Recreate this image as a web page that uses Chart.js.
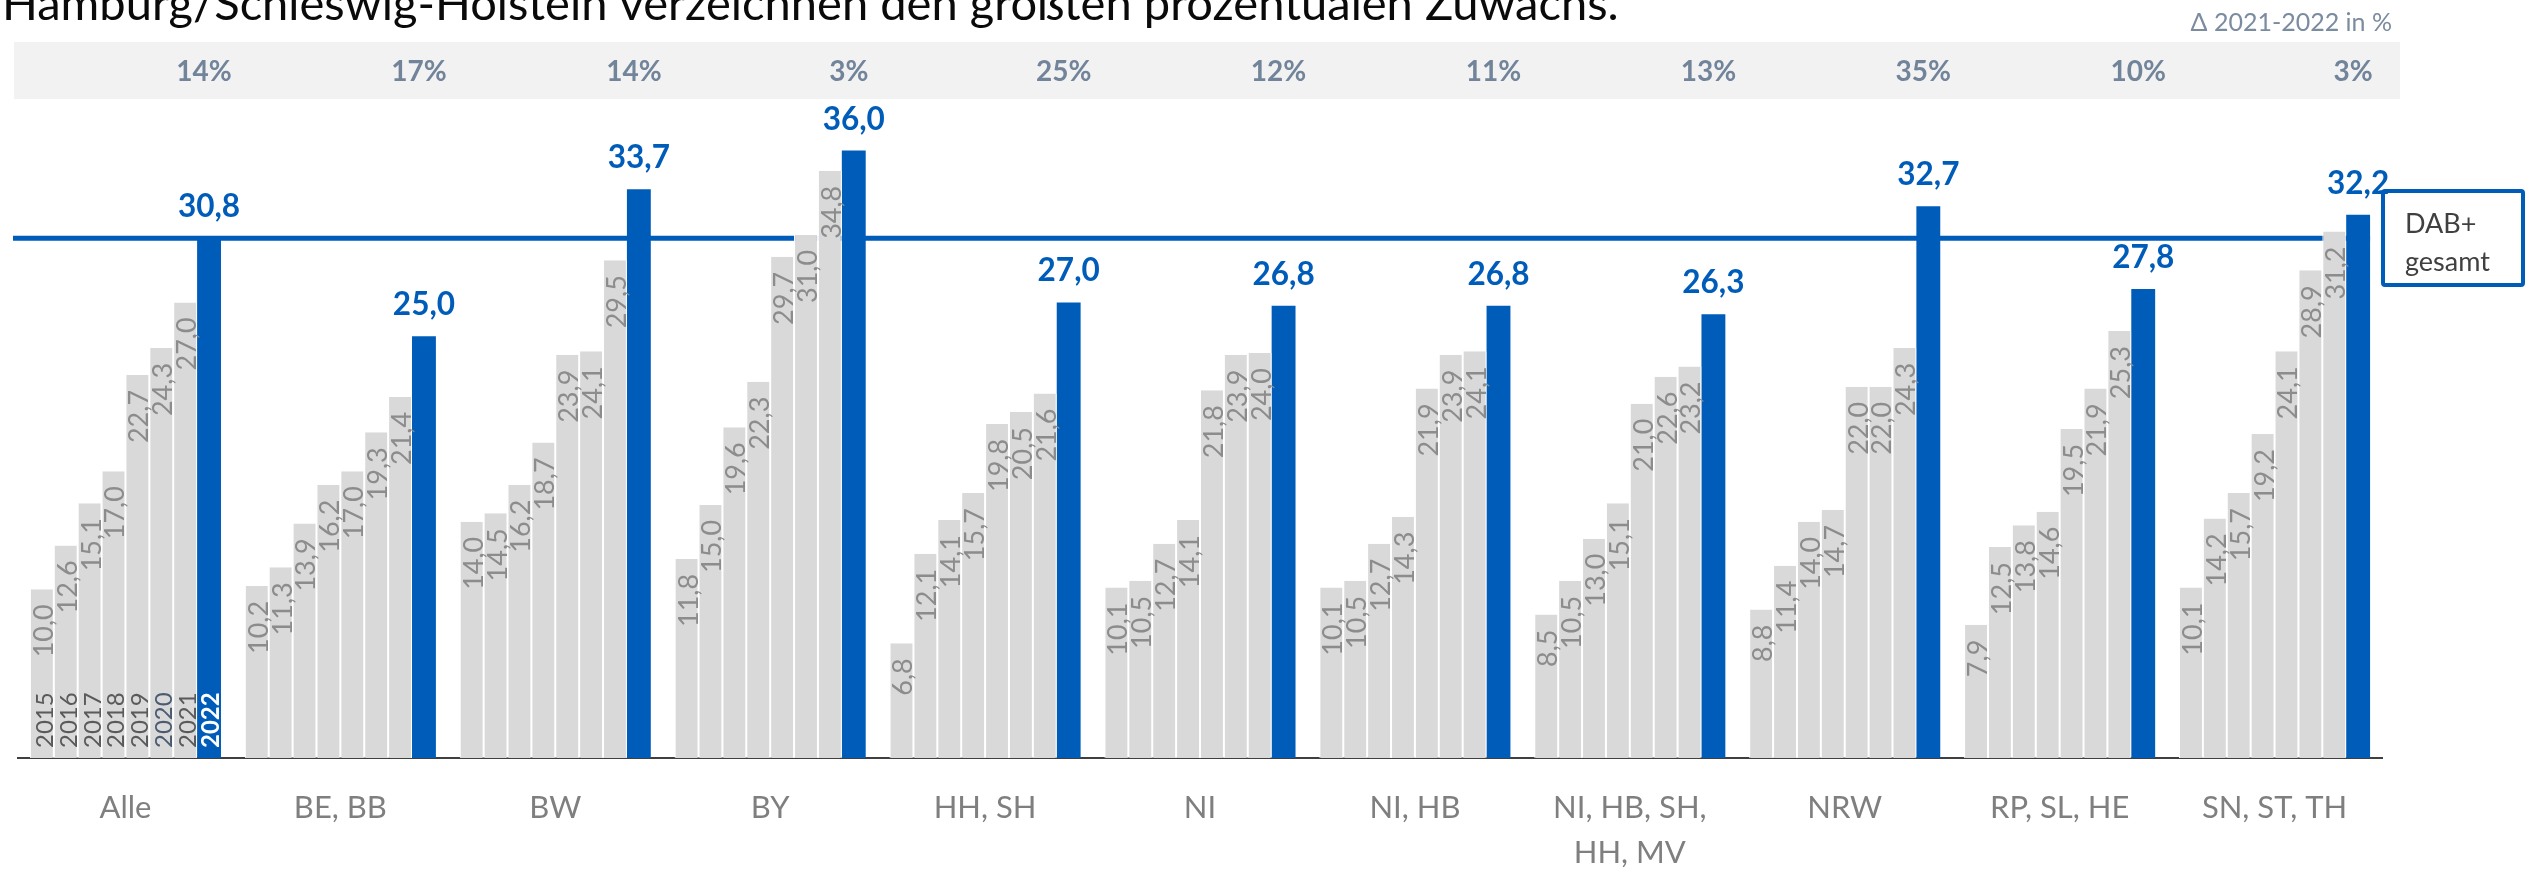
<!DOCTYPE html>
<html>
<head>
<meta charset="utf-8">
<script src="https://cdn.jsdelivr.net/npm/chart.js@4.4.1/dist/chart.umd.min.js"></script>
<style>
  html, body { margin: 0; padding: 0; background: #ffffff; overflow: hidden; }
  #wrap { width: 2538px; height: 873px; position: relative; }
</style>
</head>
<body>
<div id="wrap"><canvas id="c" width="2538" height="873"></canvas></div>
<script>
// Regions (x categories)
const regions = ['Alle', 'BE, BB', 'BW', 'BY', 'HH, SH', 'NI', 'NI, HB',
  ['NI, HB, SH,', 'HH, MV'], 'NRW', 'RP, SL, HE', 'SN, ST, TH'];

// Years, one bar series each
const years = ['2015', '2016', '2017', '2018', '2019', '2020', '2021', '2022'];

// DAB+ share per region and year (in %)
const share2015 = [10.0, 10.2, 14.0, 11.8,  6.8, 10.1, 10.1,  8.5,  8.8,  7.9, 10.1];
const share2016 = [12.6, 11.3, 14.5, 15.0, 12.1, 10.5, 10.5, 10.5, 11.4, 12.5, 14.2];
const share2017 = [15.1, 13.9, 16.2, 19.6, 14.1, 12.7, 12.7, 13.0, 14.0, 13.8, 15.7];
const share2018 = [17.0, 16.2, 18.7, 22.3, 15.7, 14.1, 14.3, 15.1, 14.7, 14.6, 19.2];
const share2019 = [22.7, 17.0, 23.9, 29.7, 19.8, 21.8, 21.9, 21.0, 22.0, 19.5, 24.1];
const share2020 = [24.3, 19.3, 24.1, 31.0, 20.5, 23.9, 23.9, 22.6, 22.0, 21.9, 28.9];
const share2021 = [27.0, 21.4, 29.5, 34.8, 21.6, 24.0, 24.1, 23.2, 24.3, 25.3, 31.2];
const share2022 = [30.8, 25.0, 33.7, 36.0, 27.0, 26.8, 26.8, 26.3, 32.7, 27.8, 32.2];

// Growth 2021 -> 2022 per region (in %)
const growthPct = [14, 17, 14, 3, 25, 12, 11, 13, 35, 10, 3];

// Overall DAB+ share 2022 (reference line)
const dabTotal = 30.8;

const titleText = 'Hamburg/Schleswig-Holstein verzeichnen den größten prozentualen Zuwachs.';
const deltaCaption = 'Δ 2021-2022 in %';
const totalCaption = ['DAB+', 'gesamt'];

const seriesByYear = [share2015, share2016, share2017, share2018,
  share2019, share2020, share2021, share2022];

const BLUE = '#005cb9';
const GREY_BAR = '#d9d9d9';
const FONT = 'Lato, "Open Sans", sans-serif';

const fmt = v => v.toFixed(1).replace('.', ',');

const decor = {
  id: 'decor',
  beforeDraw(chart) {
    const ctx = chart.ctx;
    ctx.save();
    // headline (partly above the top edge)
    let size = 46;
    ctx.font = `400 ${size}px ${FONT}`;
    size = size * 1617 / ctx.measureText(titleText).width;
    ctx.font = `400 ${size}px ${FONT}`;
    ctx.fillStyle = '#0a0a0a';
    ctx.textAlign = 'left';
    ctx.textBaseline = 'alphabetic';
    ctx.fillText(titleText, 2, 20);

    // grey band holding the growth figures
    ctx.fillStyle = '#f2f2f2';
    ctx.fillRect(14, 42, 2386, 57);

    // band caption
    ctx.fillStyle = '#7b8ba0';
    ctx.font = `400 25px ${FONT}`;
    ctx.textAlign = 'right';
    ctx.textBaseline = 'middle';
    ctx.fillText(deltaCaption, 2392, 23);
    ctx.restore();
  },
  beforeDatasetsDraw(chart) {
    // overall reference line, behind the bars
    const ctx = chart.ctx;
    const y = chart.scales.y.getPixelForValue(dabTotal);
    const last = chart.getDatasetMeta(years.length - 1).data;
    const right = last[last.length - 1].x + last[last.length - 1].width / 2;
    ctx.save();
    ctx.strokeStyle = BLUE;
    ctx.lineWidth = 5;
    ctx.beginPath();
    ctx.moveTo(13, y);
    ctx.lineTo(right, y);
    ctx.stroke();
    ctx.restore();
  },
  afterDatasetsDraw(chart) {
    const ctx = chart.ctx;
    const baseY = chart.scales.y.getPixelForValue(0);
    ctx.save();
    years.forEach((yr, di) => {
      const meta = chart.getDatasetMeta(di);
      meta.data.forEach((el, i) => {
        const v = seriesByYear[di][i];
        const edge = el.x + el.width / 2 - 1;
        if (di < years.length - 1) {
          // value inside the top of each grey bar, reading upwards
          ctx.save();
          ctx.translate(edge, el.y + 15);
          ctx.rotate(-Math.PI / 2);
          ctx.font = `400 27px ${FONT}`;
          ctx.fillStyle = '#8c8c8c';
          ctx.textAlign = 'right';
          ctx.textBaseline = 'alphabetic';
          ctx.fillText(fmt(v), 0, 0);
          ctx.restore();
          if (i === 0) {
            ctx.save();
            ctx.translate(edge, baseY - 10);
            ctx.rotate(-Math.PI / 2);
            ctx.font = `400 24px ${FONT}`;
            ctx.fillStyle = yr === '2020' ? '#4b5b70' : '#5a5a5a';
            ctx.textAlign = 'left';
            ctx.textBaseline = 'alphabetic';
            ctx.fillText(yr, 0, 0);
            ctx.restore();
          }
        } else {
          // 2022 value above the blue bar
          ctx.font = `700 31.5px ${FONT}`;
          ctx.fillStyle = BLUE;
          ctx.textAlign = 'center';
          ctx.textBaseline = 'alphabetic';
          ctx.fillText(fmt(v), el.x, el.y - 21);
          // growth figure in the band
          ctx.font = `700 28px ${FONT}`;
          ctx.fillStyle = '#72849a';
          ctx.textBaseline = 'middle';
          ctx.fillText(growthPct[i] + '%', el.x - 5, 72);
          if (i === 0) {
            ctx.save();
            ctx.translate(el.x + el.width / 2 - 1.5, baseY - 10);
            ctx.rotate(-Math.PI / 2);
            ctx.font = `700 24px ${FONT}`;
            ctx.fillStyle = '#ffffff';
            ctx.textAlign = 'left';
            ctx.textBaseline = 'alphabetic';
            ctx.fillText(yr, 0, 0);
            ctx.restore();
          }
        }
      });
    });
    ctx.restore();
  },
  afterDraw(chart) {
    // legend box for the reference line
    const ctx = chart.ctx;
    ctx.save();
    ctx.strokeStyle = BLUE;
    ctx.lineWidth = 4;
    ctx.beginPath();
    ctx.roundRect(2383, 191, 140, 94, 2);
    ctx.stroke();
    ctx.fillStyle = '#404040';
    ctx.font = `400 27px ${FONT}`;
    ctx.textAlign = 'left';
    ctx.textBaseline = 'middle';
    ctx.fillText(totalCaption[0], 2405, 224);
    ctx.fillText(totalCaption[1], 2405, 262);
    ctx.restore();
  }
};

new Chart(document.getElementById('c'), {
  type: 'bar',
  data: {
    labels: regions,
    datasets: years.map((yr, di) => ({
      label: yr,
      data: seriesByYear[di],
      backgroundColor: di < years.length - 1 ? GREY_BAR : BLUE,
      borderColor: '#ffffff',
      borderWidth: di < years.length - 1 ? { left: 1, right: 1, top: 0, bottom: 0 } : 0,
      categoryPercentage: 0.889,
      barPercentage: 1.0
    }))
  },
  options: {
    responsive: false,
    animation: false,
    devicePixelRatio: 1,
    layout: { padding: { top: 83, left: 18, right: 156, bottom: 0 } },
    plugins: {
      legend: { display: false },
      tooltip: { enabled: false },
      title: { display: false }
    },
    scales: {
      x: {
        z: 1,
        grid: { display: false, drawTicks: false },
        border: { display: true, color: '#3f3f3f', width: 2 },
        ticks: {
          color: '#7f7f7f',
          font: { family: FONT, size: 31, lineHeight: 45 / 31 },
          padding: 27,
          autoSkip: false,
          maxRotation: 0,
          minRotation: 0
        },
        afterFit(scale) { scale.height = 115; }
      },
      y: {
        display: false,
        min: 0,
        max: 40
      }
    }
  },
  plugins: [decor]
});
</script>
</body>
</html>
